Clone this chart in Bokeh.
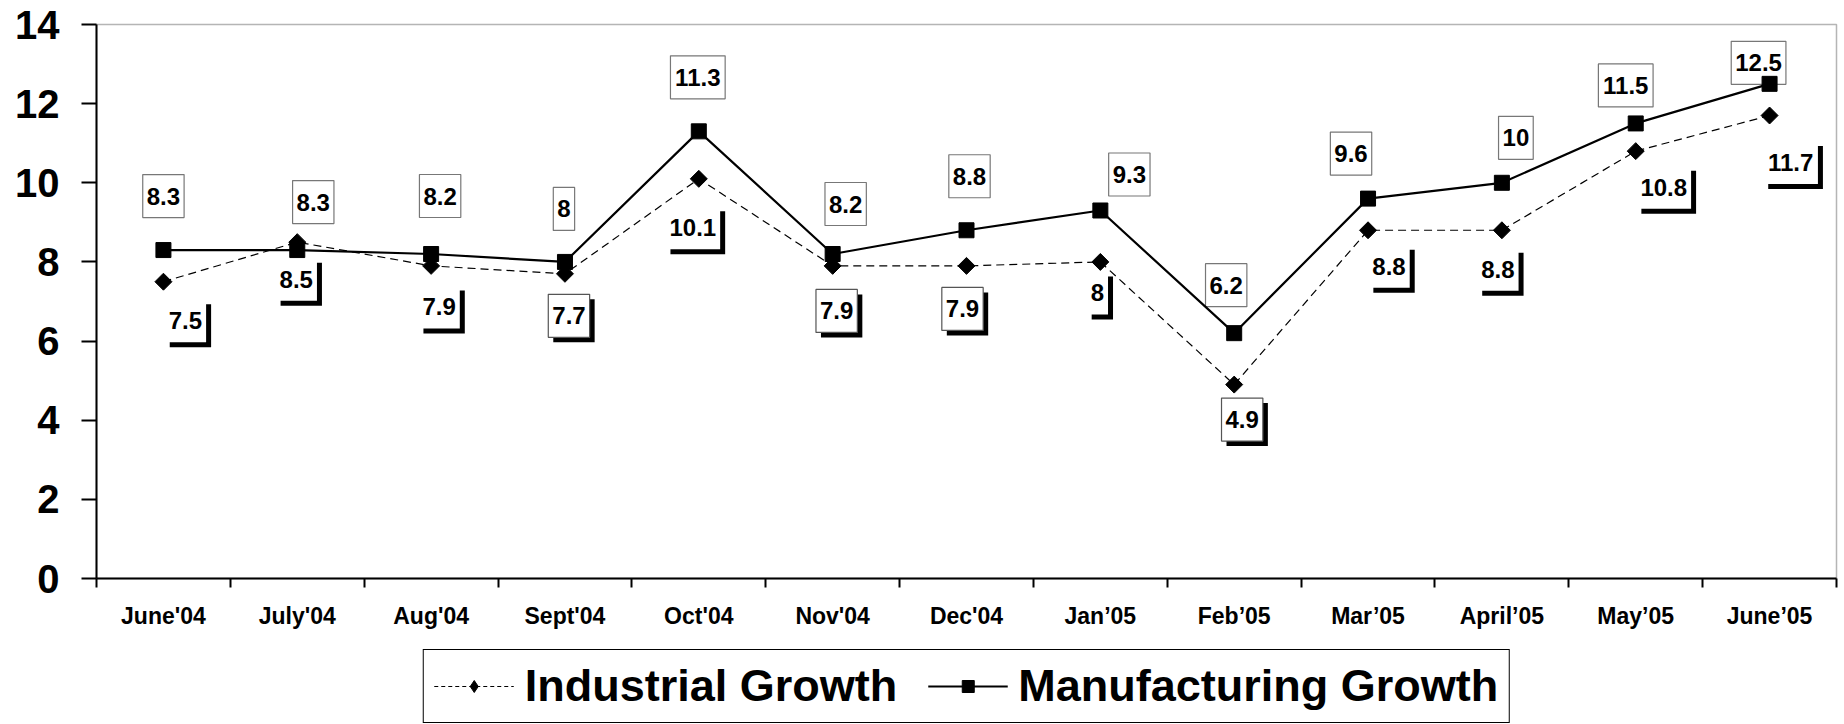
import numpy as np
from bokeh.plotting import figure
from bokeh.layouts import column
from bokeh.models import ColumnDataSource, FixedTicker, Range1d, Legend, LegendItem
from bokeh.core.properties import value
from bokeh.embed import file_html
from bokeh.resources import INLINE

# ---------------- data ----------------
months = ["June'04", "July'04", "Aug'04", "Sept'04", "Oct'04", "Nov'04", "Dec'04",
          "Jan\u201905", "Feb\u201905", "Mar\u201905", "April\u201905", "May\u201905", "June\u201905"]
industrial = [7.5, 8.5, 7.9, 7.7, 10.1, 7.9, 7.9, 8, 4.9, 8.8, 8.8, 10.8, 11.7]
manufacturing = [8.3, 8.3, 8.2, 8, 11.3, 8.2, 8.8, 9.3, 6.2, 9.6, 10, 11.5, 12.5]
y_ticks = [0, 2, 4, 6, 8, 10, 12, 14]
series_names = ["Industrial Growth", "Manufacturing Growth"]

# label placement (screen pixel offsets of label box centre from its point; +dy = down)
man_dx = [0, 16, 9, -1, -1, 13, 3, 29, -8, -17, 14, -10, -11]
man_dy = [-54, -48, -58, -53, -54, -50, -54, -36, -48, -45, -45, -38, -21]
ind_dx = [22, -1, 8, 4, -6, 4, -4, -3, 8, 21, -4, 28, 21]
ind_dy = [39, 37, 41, 42, 49, 45, 43, 31, 35, 36, 39, 36, 47]
ind_border = [0, 0, 0, 1, 0, 1, 1, 0, 1, 0, 0, 0, 0]

# ---------------- layout ----------------
FW, FH = 1740, 554
N = len(months)
sx = FW / N
sy = FH / 14.0
FONT = "Liberation Sans"
LFS = 24  # data label font px

def text_w(s):
    return sum(0.556 * LFS if c.isdigit() else 0.278 * LFS for c in s)

xc = [i + 0.5 for i in range(N)]

p = figure(frame_width=FW, frame_height=FH,
           x_range=Range1d(0, N), y_range=Range1d(0, 14),
           output_backend="svg", toolbar_location=None,
           min_border_left=96, min_border_right=6, min_border_top=24, min_border_bottom=70)
p.grid.visible = False
p.outline_line_color = "#b5b5b5"
p.outline_line_width = 1.5
p.background_fill_color = "white"

# ---------------- labels (drawn first) ----------------
def label_source(vals, dx, dy):
    txt = [f"{v:g}" for v in vals]
    x = [xc[i] + dx[i] / sx for i in range(N)]
    y = [vals[i] - dy[i] / sy for i in range(N)]
    w = [text_w(t) + 8 for t in txt]
    return txt, x, y, w

m_txt, m_x, m_y, m_w = label_source(manufacturing, man_dx, man_dy)
i_txt, i_x, i_y, i_w = label_source(industrial, ind_dx, ind_dy)

SH = 5
ind_src = ColumnDataSource(dict(x=i_x, y=i_y, w=i_w, h=[43] * N, t=i_txt,
                                sxp=[x + SH / sx for x in i_x], syp=[y - SH / sy for y in i_y],
                                la=[float(b) for b in ind_border]))
man_src = ColumnDataSource(dict(x=m_x, y=m_y, w=m_w, h=[43] * N, t=m_txt))

p.rect(x="sxp", y="syp", width="w", height="h", width_units="screen", height_units="screen",
       source=ind_src, fill_color="black", line_color=None)
p.rect(x="x", y="y", width="w", height="h", width_units="screen", height_units="screen",
       source=ind_src, fill_color="white", line_color="#555555", line_alpha="la", line_width=1.2)
p.text(x="x", y="y", text="t", source=ind_src, text_align="center", text_baseline="middle",
       text_font=value(FONT), text_font_style="bold", text_font_size=f"{LFS}px", text_color="black")

p.rect(x="x", y="y", width="w", height="h", width_units="screen", height_units="screen",
       source=man_src, fill_color="white", line_color="#777777", line_width=1.2)
p.text(x="x", y="y", text="t", source=man_src, text_align="center", text_baseline="middle",
       text_font=value(FONT), text_font_style="bold", text_font_size=f"{LFS}px", text_color="black")

# ---------------- series ----------------
src = ColumnDataSource(dict(x=xc, ind=industrial, man=manufacturing))
p.line("x", "ind", source=src, line_color="black", line_width=1.2, line_dash="8 5")
p.scatter("x", "ind", source=src, marker="square", angle=np.pi / 4, size=12,
          fill_color="black", line_color="black")
p.line("x", "man", source=src, line_color="black", line_width=2.2)
p.scatter("x", "man", source=src, marker="square", size=15,
          fill_color="black", line_color="black")

# ---------------- axes ----------------
xa = p.xaxis[0]
xa.ticker = FixedTicker(ticks=xc, minor_ticks=list(range(N + 1)))
xa.major_label_overrides = {xc[i]: months[i] for i in range(N)}
xa.major_tick_out = 0
xa.major_tick_in = 0
xa.major_tick_line_color = None
xa.minor_tick_out = 9
xa.minor_tick_in = 0
xa.minor_tick_line_color = "black"
xa.minor_tick_line_width = 2
xa.axis_line_width = 2
xa.axis_line_color = "black"
xa.major_label_standoff = 15
xa.major_label_text_font = FONT
xa.major_label_text_font_style = "bold"
xa.major_label_text_font_size = "23px"
xa.major_label_text_color = "black"

ya = p.yaxis[0]
ya.ticker = FixedTicker(ticks=y_ticks, minor_ticks=[])
ya.major_tick_out = 15
ya.major_tick_in = 0
ya.major_tick_line_width = 2
ya.major_tick_line_color = "black"
ya.minor_tick_out = 0
ya.minor_tick_in = 0
ya.axis_line_width = 2
ya.axis_line_color = "black"
ya.major_label_standoff = 22
ya.major_label_text_font = FONT
ya.major_label_text_font_style = "bold"
ya.major_label_text_font_size = "40px"
ya.major_label_text_color = "black"

# ---------------- legend strip (own small figure under the chart) ----------------
p2 = figure(frame_width=FW, frame_height=76, x_range=Range1d(0, 1), y_range=Range1d(0, 1),
            x_axis_type=None, y_axis_type=None, output_backend="svg", toolbar_location=None,
            min_border_left=96, min_border_right=6, min_border_top=0, min_border_bottom=0)
p2.grid.visible = False
p2.outline_line_color = None
# legend-key renderers: their single point lies outside the strip's ranges, so only the key shows
kx, ky = [5, 6], [5, 5]
k1l = p2.line(x=kx, y=ky, line_color="black", line_width=1.2, line_dash="4 3")
k1s = p2.scatter(x=kx[:1], y=ky[:1], marker="diamond", size=19, fill_color="black", line_color="black")
k2l = p2.line(x=kx, y=ky, line_color="black", line_width=2.2)
k2s = p2.scatter(x=kx[:1], y=ky[:1], marker="square", size=15, fill_color="black", line_color="black")

legend = Legend(items=[LegendItem(label=series_names[0], renderers=[k1l, k1s]),
                       LegendItem(label=series_names[1], renderers=[k2l, k2s])],
                orientation="horizontal", location="center",
                label_text_font=FONT, label_text_font_style="bold", label_text_font_size="45px",
                label_text_color="black", glyph_width=80, glyph_height=30, label_standoff=11,
                spacing=30, padding=10, margin=0,
                border_line_color="black", border_line_alpha=1.0, border_line_width=1.5,
                background_fill_color="white")
p2.add_layout(legend, "center")

open("out.html", "w").write(file_html(column(p, p2, spacing=0), INLINE))
